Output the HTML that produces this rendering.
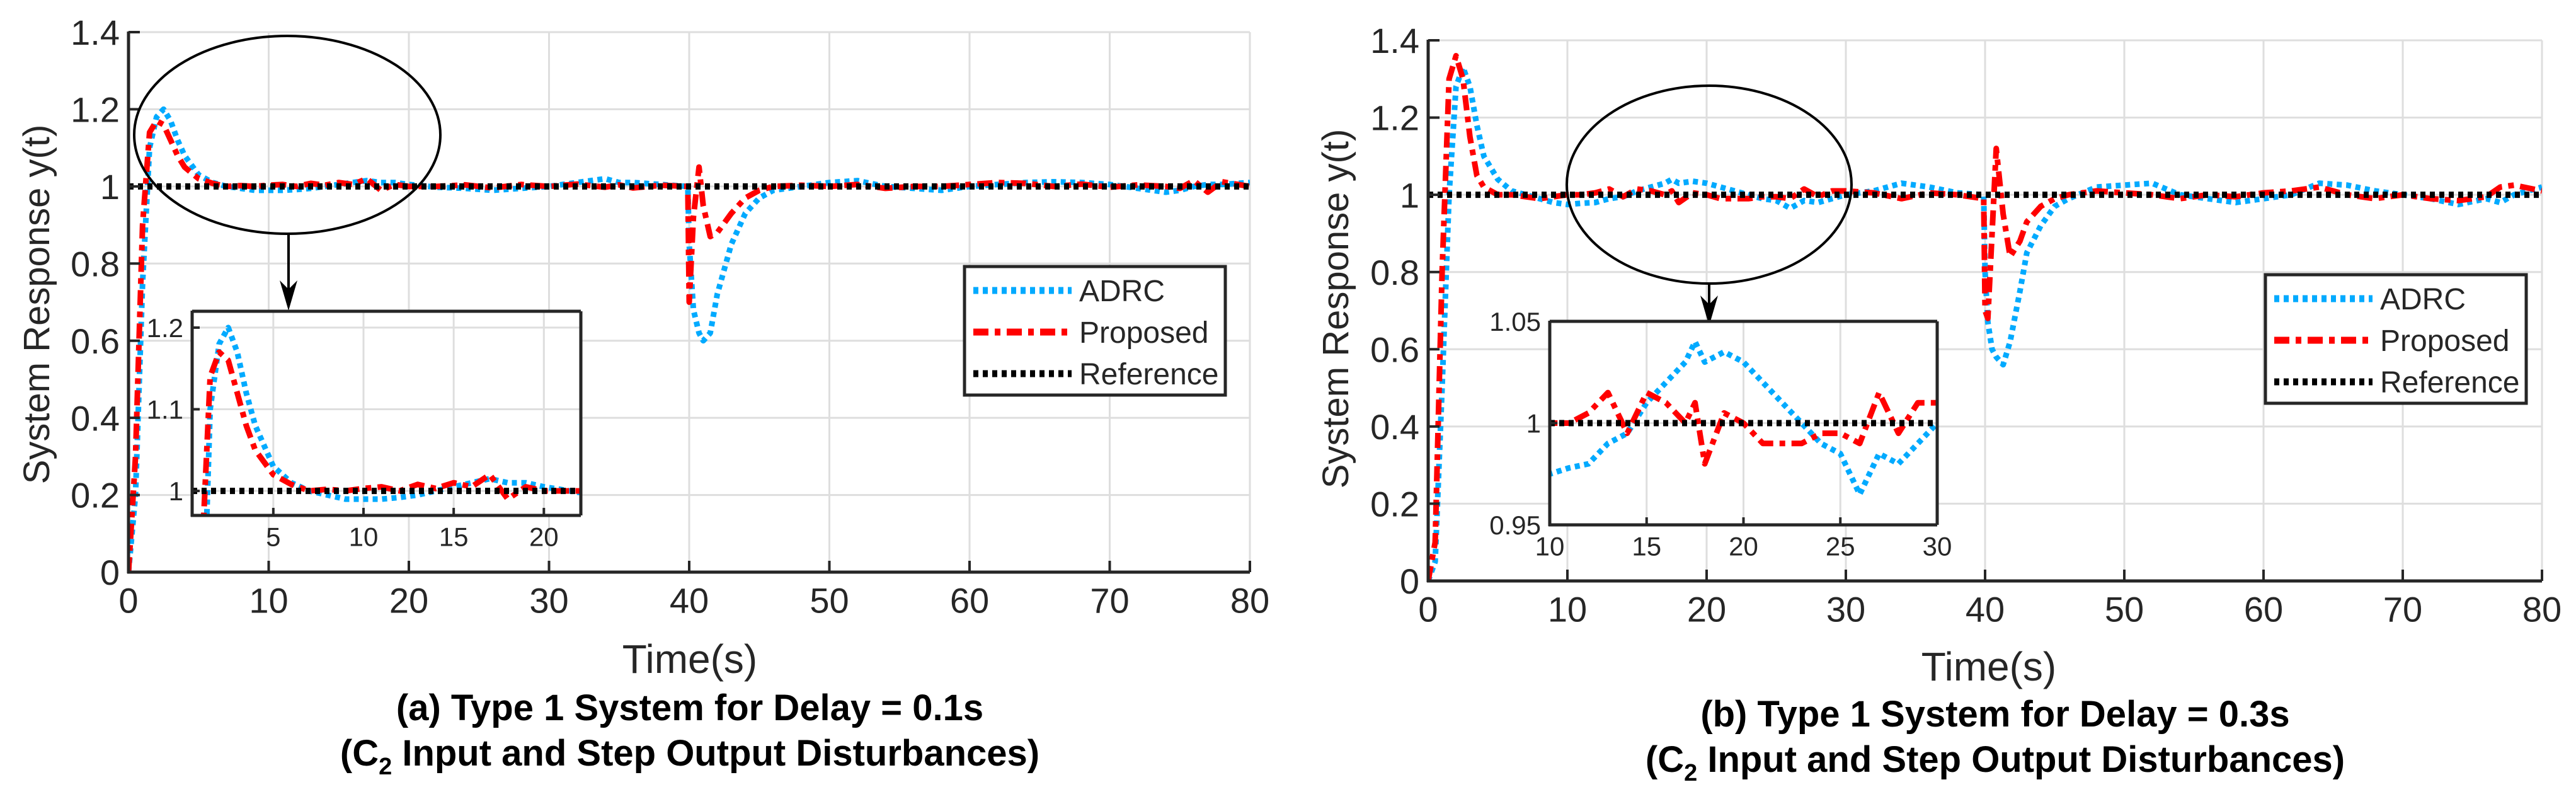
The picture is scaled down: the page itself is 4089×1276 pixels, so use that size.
<!DOCTYPE html>
<html><head><meta charset="utf-8">
<style>
html,body{margin:0;padding:0;background:#fff;width:4089px;height:1276px;overflow:hidden;}
svg{display:block;}
text{font-family:"Liberation Sans",sans-serif;fill:#262626;}
.tick{font-family:"Liberation Sans Narrow","Liberation Sans",sans-serif;font-size:56px;}
.itick{font-family:"Liberation Sans Narrow","Liberation Sans",sans-serif;font-size:42px;}
.ttl{font-family:"Liberation Sans Narrow","Liberation Sans",sans-serif;font-weight:bold;font-size:58px;fill:#000;}
</style></head>
<body>
<svg id="fig" width="4089" height="1276" viewBox="0 0 4089 1276" xmlns="http://www.w3.org/2000/svg"></svg>
<script>
// ---- data: panel (a) ----
const timeA = [0,0.5,1,1.5,2,2.5,3,3.5,4,5,6,7,8,9,10,11,12,13,14,15,16,17,18,19,20,22,24,26,28,30,32,34,35,36,38,39.9,40,40.3,40.7,41,41.5,42,43,44,45,46,48,50,52,54,56,58,60,62,64,66,68,70,72,74,75,76,77,78,80];
const adrcA = [0,0.2,0.75,1.1,1.18,1.2,1.17,1.12,1.08,1.03,1.01,1.0,0.995,0.99,0.99,0.99,0.992,0.995,1.0,1.005,1.01,1.015,1.01,1.01,1.005,0.998,0.995,0.99,0.995,1.0,1.01,1.02,1.01,1.01,1.005,1.0,0.85,0.68,0.62,0.6,0.62,0.72,0.85,0.93,0.97,0.99,1.0,1.01,1.015,1.0,0.995,0.99,1.0,1.005,1.01,1.012,1.01,1.005,0.995,0.985,0.99,1.0,1.005,1.005,1.01];
const propA = [0,0.3,0.9,1.14,1.17,1.16,1.12,1.08,1.05,1.02,1.008,1.0,1.002,1.0,1.003,1.005,1.0,1.008,1.003,1.01,1.005,1.02,0.99,1.005,1.0,1.0,1.004,0.996,1.005,1.0,1.006,0.998,1.004,0.996,1.003,1.0,0.7,0.92,1.05,0.95,0.87,0.88,0.93,0.97,0.99,1.0,1.003,1.0,1.005,0.995,1.0,1.0,1.005,1.01,1.008,1.0,1.006,0.998,1.004,1.0,0.995,1.015,0.985,1.012,1.0];
// ---- data: panel (b) ----
const timeB = [0,0.5,1,1.5,2,2.5,3,3.5,4,5,6,7,8,9,10,11,12,13,14,15,16,17,17.5,18,19,20,21,22,23,24,25,26,27,28,29,30,32,34,36,38,39.9,40,40.2,40.5,40.8,41.3,41.8,42.5,43,44,45,46,48,50,52,54,56,58,60,62,64,66,68,70,72,74,76,77,78,80];
const adrcB = [0,0.05,0.5,1.0,1.28,1.33,1.28,1.18,1.1,1.04,1.01,1.0,0.99,0.98,0.975,0.978,0.98,0.99,0.995,1.01,1.02,1.03,1.04,1.03,1.035,1.03,1.02,1.01,1.0,0.99,0.985,0.965,0.985,0.98,0.99,1.0,1.01,1.03,1.02,1.005,1.0,0.8,0.67,0.6,0.58,0.56,0.62,0.75,0.85,0.92,0.97,0.99,1.02,1.025,1.03,1.0,0.99,0.98,0.99,1.0,1.03,1.025,1.01,1.0,0.99,0.975,0.99,0.98,1.0,1.02];
const propB = [0,0.1,0.8,1.3,1.36,1.3,1.15,1.05,1.02,1.0,1.0,0.995,0.99,0.995,1.0,1.0,1.005,1.015,0.995,1.015,1.01,1.0,1.01,0.98,1.005,1.0,0.99,0.99,0.99,0.995,0.995,0.99,1.015,0.995,1.01,1.01,1.005,0.99,1.005,1.0,0.99,0.7,0.68,0.9,1.12,0.95,0.84,0.88,0.93,0.97,0.99,1.0,1.01,1.005,1.0,0.99,1.0,0.995,1.005,1.01,1.02,1.0,0.99,1.0,0.99,0.985,0.995,1.02,1.025,1.01];
// ---- ticks ----
const xTicksMain = [0,10,20,30,40,50,60,70,80];
const yTicksMain = [0,0.2,0.4,0.6,0.8,1,1.2,1.4];
const yTickLabelsMain = ["0","0.2","0.4","0.6","0.8","1","1.2","1.4"];
const xTicksInsetA = [5,10,15,20];
const yTicksInsetA = [1,1.1,1.2];
const yTickLabelsInsetA = ["1","1.1","1.2"];
const xTicksInsetB = [10,15,20,25,30];
const yTicksInsetB = [0.95,1,1.05];
const yTickLabelsInsetB = ["0.95","1","1.05"];
const refValue = 1;

const NS = "http://www.w3.org/2000/svg";
const fig = document.getElementById('fig');
function mk(tag, attrs, parent){
  const e = document.createElementNS(NS, tag);
  for (const k in attrs) e.setAttribute(k, attrs[k]);
  (parent||fig).appendChild(e);
  return e;
}
const ADRC = "#00aaff", PROP = "#ff0000", REF = "#000000";
const ADRC_DASH = "8 7", PROP_DASH = "24 10 9 10", REF_DASH = "8 7";
let clipId = 0;

function drawAxes(g, box, xd, yd, xt, yt, grid){
  const sx = v => box.x0 + (v - xd[0]) / (xd[1] - xd[0]) * (box.x1 - box.x0);
  const sy = v => box.y0 - (v - yd[0]) / (yd[1] - yd[0]) * (box.y0 - box.y1);
  if (grid){
    xt.forEach(v=>{
      const l = mk('line',{x1:sx(v),x2:sx(v),y1:box.y1,y2:box.y0,stroke:'#dedede','stroke-width':3},g);
      
      
    });
    yt.forEach(v=>{
      const l = mk('line',{x1:box.x0,x2:box.x1,y1:sy(v),y2:sy(v),stroke:'#dedede','stroke-width':3},g);
      
      
    });
  }
  return {sx, sy};
}

function drawTicks(g, box, sx, sy, xt, yt, ytl, cls, tickLen, fs, full){
  const ax = mk('g',{},g);
  
  
  mk('line',{x1:box.x0,x2:box.x0,y1:box.y1-1,y2:box.y0+2,stroke:'#262626','stroke-width':5},ax);
  mk('line',{x1:box.x0-2,x2:box.x1,y1:box.y0,y2:box.y0,stroke:'#262626','stroke-width':5},ax);
  if (full){
    mk('line',{x1:box.x0,x2:box.x1,y1:box.y1,y2:box.y1,stroke:'#262626','stroke-width':5},ax);
    mk('line',{x1:box.x1,x2:box.x1,y1:box.y1,y2:box.y0,stroke:'#262626','stroke-width':5},ax);
  }
  xt.forEach(v=>{
    mk('line',{x1:sx(v),x2:sx(v),y1:box.y0,y2:box.y0-tickLen,stroke:'#262626','stroke-width':4},ax);
    const t = mk('text',{x:sx(v),y:box.y0+fs*1.15,'text-anchor':'middle','class':cls},ax);
    t.textContent = v;
    
    
  });
  yt.forEach((v,i)=>{
    mk('line',{x1:box.x0,x2:box.x0+tickLen,y1:sy(v),y2:sy(v),stroke:'#262626','stroke-width':4},ax);
    const t = mk('text',{x:box.x0-14,y:sy(v)+fs*0.36,'text-anchor':'end','class':cls},ax);
    t.textContent = ytl[i];
    
    
  });
}

function series(g, box, sx, sy, ts, ys, color, dash, w, name){
  clipId++;
  const cp = mk('clipPath',{id:'c'+clipId},g);
  mk('rect',{x:box.x0,y:box.y1,width:box.x1-box.x0,height:box.y0-box.y1},cp);
  const d = ts.map((t,i)=>(i?'L':'M')+sx(t).toFixed(1)+' '+sy(ys[i]).toFixed(1)).join(' ');
  const p = mk('path',{d:d,fill:'none',stroke:color,'stroke-width':w,'stroke-dasharray':dash,'stroke-linejoin':'round','clip-path':'url(#c'+clipId+')'},g);
  
  
}

function refLine(g, box, sx, sy, xd, w){
  clipId++;
  const cp = mk('clipPath',{id:'c'+clipId},g);
  mk('rect',{x:box.x0,y:box.y1,width:box.x1-box.x0,height:box.y0-box.y1},cp);
  const l = mk('line',{x1:sx(xd[0]),x2:sx(xd[1]),y1:sy(refValue),y2:sy(refValue),stroke:REF,'stroke-width':w,'stroke-dasharray':REF_DASH,'clip-path':'url(#c'+clipId+')'},g);
  
  
}

function panel(o){
  const g = mk('g',{});
  
  
  const box = o.box, xd=[0,80], yd=[0,1.4];
  const {sx,sy} = drawAxes(g, box, xd, yd, xTicksMain, yTicksMain, true);
  series(g, box, sx, sy, o.t, o.adrc, ADRC, ADRC_DASH, 9, 'adrc-line');
  series(g, box, sx, sy, o.t, o.prop, PROP, PROP_DASH, 9, 'proposed-line');
  refLine(g, box, sx, sy, xd, 10);
  drawTicks(g, box, sx, sy, xTicksMain, yTicksMain, yTickLabelsMain, 'tick', 18, 56, false);
  const e = mk('ellipse',{cx:o.ell[0],cy:o.ell[1],rx:o.ell[2],ry:o.ell[3],fill:'none',stroke:'#000','stroke-width':4},g);
  
  
  const ar = mk('g',{},g);
  
  
  mk('line',{x1:o.arrow[0],x2:o.arrow[0],y1:o.arrow[1],y2:o.arrow[2]-20,stroke:'#000','stroke-width':4},ar);
  mk('path',{d:`M${o.arrow[0]-14} ${o.arrow[2]-48} L${o.arrow[0]} ${o.arrow[2]} L${o.arrow[0]+14} ${o.arrow[2]-48} L${o.arrow[0]} ${o.arrow[2]-34} Z`,fill:'#000'},ar);
  const ig = mk('g',{},g);
  
  
  const ib = o.ibox;
  mk('rect',{x:ib.x0,y:ib.y1,width:ib.x1-ib.x0,height:ib.y0-ib.y1,fill:'#fff'},ig);
  const s2 = drawAxes(ig, ib, o.ixd, o.iyd, o.ixt, o.iyt, true);
  series(ig, ib, s2.sx, s2.sy, o.t, o.adrc, ADRC, ADRC_DASH, 9, 'inset-adrc-line');
  series(ig, ib, s2.sx, s2.sy, o.t, o.prop, PROP, PROP_DASH, 9, 'inset-proposed-line');
  refLine(ig, ib, s2.sx, s2.sy, o.ixd, 10);
  drawTicks(ig, ib, s2.sx, s2.sy, o.ixt, o.iyt, o.iytl, 'itick', 12, 42, true);
  const L = o.leg;
  const lg = mk('g',{},g);
  
  
  mk('rect',{x:L[0],y:L[1],width:414,height:204,fill:'#fff',stroke:'#262626','stroke-width':5},lg);
  const items = [['ADRC',ADRC,ADRC_DASH],['Proposed',PROP,PROP_DASH],['Reference',REF,REF_DASH]];
  items.forEach((it,i)=>{
    const y = L[1]+38+i*66;
    const en = mk('g',{},lg);
    
    
    mk('line',{x1:L[0]+14,x2:L[0]+170,y1:y,y2:y,stroke:it[1],'stroke-width':11,'stroke-dasharray':it[2]},en);
    const t = mk('text',{x:L[0]+182,y:y+17,'font-size':48,fill:'#000'},en);
    t.textContent = it[0];
  });
  const yl = mk('text',{x:0,y:0,'font-size':58,'text-anchor':'middle',transform:`translate(${o.ylab[0]},${o.ylab[1]}) rotate(-90)`},g);
  yl.textContent = 'System Response y(t)';
  
  
  const xl = mk('text',{x:o.xlab[0],y:o.xlab[1],'text-anchor':'middle','class':'tick','font-size':64,'style':'font-size:64px'},g);
  xl.textContent = 'Time(s)';
  
  
  const c1 = mk('text',{x:o.cap[0],y:o.cap[1],'text-anchor':'middle','class':'ttl'},g);
  c1.textContent = o.caption;
  
  
  const c2 = mk('text',{x:o.cap[0],y:o.cap[1]+72,'text-anchor':'middle','class':'ttl'},g);
  c2.innerHTML = '(C<tspan font-size="38" dy="14">2</tspan><tspan dy="-14"> Input and Step Output Disturbances)</tspan>';
  
  
}

panel({name:'panel-a', t:timeA, adrc:adrcA, prop:propA,
  box:{x0:204,x1:1984,y0:908,y1:51},
  ell:[456,214,243,157], arrow:[458,372,493],
  ibox:{x0:305,x1:922,y0:818,y1:494}, ixd:[0.5,22.05], iyd:[0.97,1.22],
  ixt:xTicksInsetA, iyt:yTicksInsetA, iytl:yTickLabelsInsetA,
  leg:[1531,423], ylab:[78,483], xlab:[1095,1068], cap:[1095,1143],
  caption:'(a) Type 1 System for Delay = 0.1s'});
panel({name:'panel-b', t:timeB, adrc:adrcB, prop:propB,
  box:{x0:2267,x1:4035,y0:922,y1:64},
  ell:[2713,293,226,157], arrow:[2713,450,517],
  ibox:{x0:2460,x1:3075,y0:833,y1:510}, ixd:[10,30], iyd:[0.95,1.05],
  ixt:xTicksInsetB, iyt:yTicksInsetB, iytl:yTickLabelsInsetB,
  leg:[3596,436], ylab:[2140,490], xlab:[3157,1080], cap:[3167,1153],
  caption:'(b) Type 1 System for Delay = 0.3s'});
</script>
</body></html>
